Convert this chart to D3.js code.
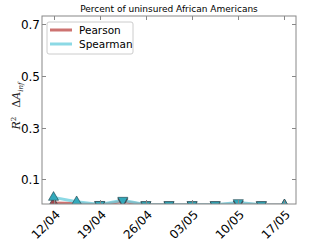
<!DOCTYPE html>
<html>
<head>
<meta charset="utf-8">
<script src="https://cdn.jsdelivr.net/npm/d3@7"></script>
<style>
  body { margin: 0; background: #fff; }
  svg { display: block; font-family: "DejaVu Sans", sans-serif; }
</style>
</head>
<body>
<svg width="322" height="241"></svg>
<script>
const steps = [0, 1, 2, 3, 4, 5, 6, 7, 8, 9, 10];
const tickLabels = ["12/04", "19/04", "26/04", "03/05", "10/05", "17/05"];
const tickSteps = [0, 2, 4, 6, 8, 10];
const pearson = [0.008, 0.006, 0.002, 0.014, 0.002, 0.002, 0.002, 0.002, 0.005, 0.002, 0.001];
const spearman = [0.030, 0.013, 0.003, 0.019, 0.002, 0.002, 0.002, 0.002, 0.010, 0.002, 0.001];
// marker direction: up = positive correlation, down = negative
const markerUp = [true, true, false, false, false, false, false, false, false, false, true];
const yTicks = [0.1, 0.3, 0.5, 0.7];

const svg = d3.select("svg");
const m = { left: 42, right: 296, top: 16, bottom: 204 };

const x = d3.scaleLinear().domain([-0.5, 10.5]).range([m.left, m.right]);
const y = d3.scaleLinear().domain([0.0045, 0.731]).range([m.bottom, m.top]);

svg.append("defs").append("clipPath").attr("id", "clip")
  .append("rect").attr("x", m.left).attr("y", m.top)
  .attr("width", m.right - m.left).attr("height", m.bottom - m.top);

// title
svg.append("text")
  .attr("x", (m.left + m.right) / 2).attr("y", 12)
  .attr("text-anchor", "middle").attr("font-size", 9)
  .text("Percent of uninsured African Americans");

// lines
const plot = svg.append("g").attr("clip-path", "url(#clip)");
const line = d3.line().x((d, i) => x(steps[i])).y(d => y(d));

plot.append("path").datum(pearson).attr("d", line)
  .attr("fill", "none").attr("stroke", "#c0504d").attr("stroke-opacity", 0.8).attr("stroke-width", 3);
plot.append("path").datum(spearman).attr("d", line)
  .attr("fill", "none").attr("stroke", "#6fd0de").attr("stroke-opacity", 0.8).attr("stroke-width", 3);

const tri = d3.symbol().type(d3.symbolTriangle).size(44);
function markers(vals, fill) {
  plot.selectAll(null).data(vals).enter().append("path")
    .attr("d", tri)
    .attr("transform", (d, i) => `translate(${x(steps[i])},${y(d)}) rotate(${markerUp[i] ? 0 : 180})`)
    .attr("fill", fill).attr("stroke", "#1f3f48").attr("stroke-width", 0.6);
}
markers(pearson, "#a0444a");
markers(spearman, "#33a9bb");

// frame
svg.append("rect").attr("x", m.left).attr("y", m.top)
  .attr("width", m.right - m.left).attr("height", m.bottom - m.top)
  .attr("fill", "none").attr("stroke", "#888").attr("stroke-width", 1);

// y ticks
const yAxis = svg.append("g");
yTicks.forEach(t => {
  const yy = Math.round(y(t)) + 0.5;
  yAxis.append("line").attr("x1", m.left).attr("x2", m.left + 4).attr("y1", yy).attr("y2", yy).attr("stroke", "#888");
  yAxis.append("line").attr("x1", m.right - 4).attr("x2", m.right).attr("y1", yy).attr("y2", yy).attr("stroke", "#888");
  yAxis.append("text").attr("x", m.left - 2).attr("y", yy).attr("dy", "0.35em")
    .attr("text-anchor", "end").attr("font-size", 12).text(d3.format(".1f")(t));
});

// x ticks
const xAxis = svg.append("g");
tickSteps.forEach((s, k) => {
  const xx = Math.round(x(s)) + 0.5;
  xAxis.append("line").attr("x1", xx).attr("x2", xx).attr("y1", m.bottom).attr("y2", m.bottom - 4).attr("stroke", "#888");
  xAxis.append("line").attr("x1", xx).attr("x2", xx).attr("y1", m.top).attr("y2", m.top + 4).attr("stroke", "#888");
  xAxis.append("text")
    .attr("transform", `translate(${xx},${m.bottom + 5}) rotate(-45)`)
    .attr("text-anchor", "end").attr("dy", "0.75em").attr("font-size", 12)
    .text(tickLabels[k]);
});

// y label
const yl = svg.append("text")
  .attr("transform", `translate(20,106) rotate(-90)`)
  .attr("text-anchor", "middle").attr("font-size", 11)
  .attr("font-family", "DejaVu Serif, serif").attr("font-style", "italic")
  .attr("fill", "#222");
yl.append("tspan").text("R");
yl.append("tspan").attr("dy", -4).attr("font-size", 7).attr("font-style", "normal").text("2");
yl.append("tspan").attr("dy", 4).attr("dx", 9).attr("font-style", "normal").text("Δ");
yl.append("tspan").text("A");
yl.append("tspan").attr("dy", 3).attr("font-size", 7).text("inf");

// legend
const lg = svg.append("g");
lg.append("rect").attr("x", 47).attr("y", 22).attr("width", 86).attr("height", 32)
  .attr("rx", 2).attr("fill", "#fff").attr("stroke", "#ccc");
[["Pearson", "#c0504d", 30], ["Spearman", "#6fd0de", 44]].forEach(([name, c, yy]) => {
  lg.append("line").attr("x1", 50).attr("x2", 72).attr("y1", yy).attr("y2", yy)
    .attr("stroke", c).attr("stroke-opacity", 0.8).attr("stroke-width", 3);
  lg.append("text").attr("x", 79).attr("y", yy).attr("dy", "0.35em").attr("font-size", 10.5).text(name);
});
</script>
</body>
</html>
